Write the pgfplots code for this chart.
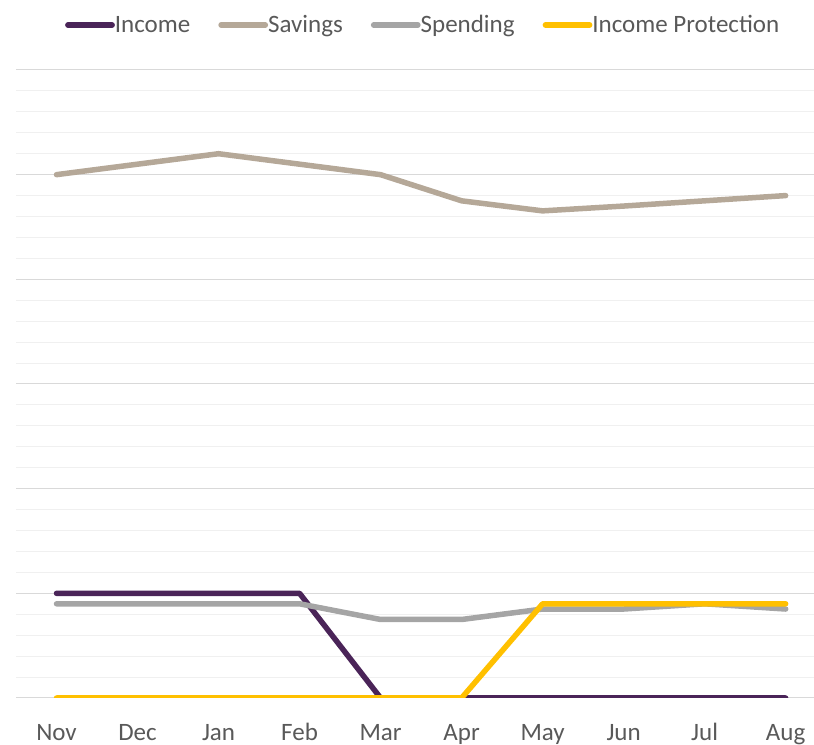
\documentclass[border=0pt]{standalone}
\usepackage{pgfplots}
\pgfplotsset{compat=1.18}
\usepackage{fontspec}
\setmainfont{Carlito}
\definecolor{inc}{HTML}{4A2458}
\definecolor{sav}{HTML}{B5A898}
\definecolor{spe}{HTML}{A5A5A5}
\definecolor{ipr}{HTML}{FFC000}
\definecolor{txt}{HTML}{595959}
\definecolor{gmaj}{HTML}{D9D9D9}
\definecolor{gmin}{HTML}{F0F0F0}
\begin{document}
\begin{tikzpicture}[x=1bp,y=1bp]
\path[use as bounding box] (0,0) rectangle (814,745);
\begin{axis}[
  at={(16bp,47bp)}, anchor=south west,
  scale only axis, width=798bp, height=628bp,
  xmin=-0.5, xmax=9.35, ymin=0, ymax=30,
  xtick={0,...,9},
  xticklabels={Nov,Dec,Jan,Feb,Mar,Apr,May,Jun,Jul,Aug},
  ytick={0,5,...,30}, yticklabels={},
  minor y tick num=4,
  ymajorgrids, yminorgrids,
  major grid style={draw=gmaj, line width=1bp},
  minor grid style={draw=gmin, line width=1bp},
  axis line style={draw=none},
  major tick length=0pt, minor tick length=0pt,
  tick style={draw=none},
  xticklabel style={anchor=base, yshift=-42bp, font=\fontsize{25bp}{30bp}\selectfont, text=txt},
  legend columns=4,
  legend style={at={(0.509,1)}, anchor=center, yshift=45bp, draw=none, fill=none,
    font=\fontsize{25bp}{30bp}\selectfont, text=txt,
    nodes={inner xsep=0pt, inner ysep=2bp},
    /tikz/every even column/.append style={column sep=28bp}},
  legend image code/.code={\draw[#1, line width=5.8bp, line cap=round] (3bp,0bp) -- (47bp,0bp);},
  every axis plot/.append style={line width=5.5bp, line cap=round, line join=round, mark=none},
]
\addplot[inc] coordinates {(0,5)(1,5)(2,5)(3,5)(4,0)(5,0)(6,0)(7,0)(8,0)(9,0)};
\addlegendentry{Income}
\addplot[sav] coordinates {(0,25)(1,25.5)(2,26)(3,25.5)(4,25)(5,23.75)(6,23.27)(7,23.5)(8,23.75)(9,24)};
\addlegendentry{Savings}
\addplot[spe] coordinates {(0,4.5)(1,4.5)(2,4.5)(3,4.5)(4,3.75)(5,3.75)(6,4.25)(7,4.25)(8,4.5)(9,4.25)};
\addlegendentry{Spending}
\addplot[ipr] coordinates {(0,0)(1,0)(2,0)(3,0)(4,0)(5,0)(6,4.5)(7,4.5)(8,4.5)(9,4.5)};
\addlegendentry{Income Protection}
\end{axis}
\end{tikzpicture}
\end{document}
